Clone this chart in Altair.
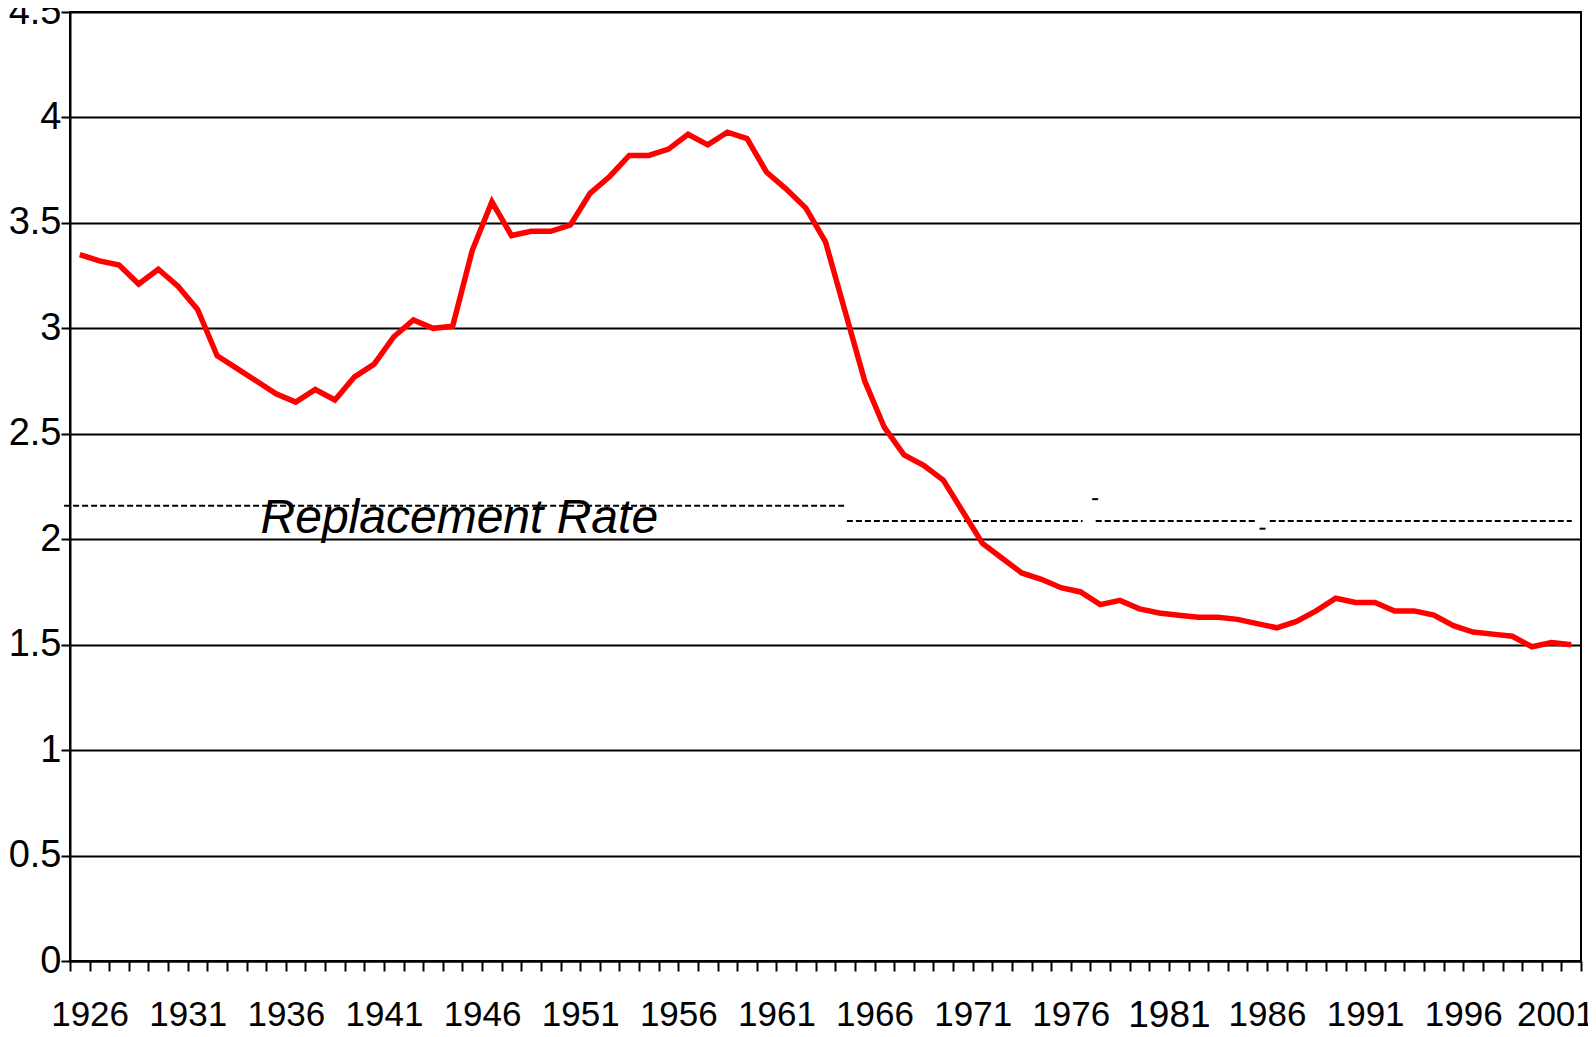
import altair as alt
import pandas as pd

years = list(range(1926, 2003))
tfr = [
    3.35, 3.32, 3.30, 3.21, 3.28, 3.20, 3.09, 2.87, 2.81, 2.75,   # 1926-1935
    2.69, 2.65, 2.71, 2.66, 2.77, 2.83, 2.96, 3.04, 3.00, 3.01,   # 1936-1945
    3.37, 3.60, 3.44, 3.46, 3.46, 3.49, 3.64, 3.72, 3.82, 3.82,   # 1946-1955
    3.85, 3.92, 3.87, 3.93, 3.90, 3.74, 3.66, 3.57, 3.41, 3.08,   # 1956-1965
    2.75, 2.53, 2.40, 2.35, 2.28, 2.13, 1.98, 1.91, 1.84, 1.81,   # 1966-1975
    1.77, 1.75, 1.69, 1.71, 1.67, 1.65, 1.64, 1.63, 1.63, 1.62,   # 1976-1985
    1.60, 1.58, 1.61, 1.66, 1.72, 1.70, 1.70, 1.66, 1.66, 1.64,   # 1986-1995
    1.59, 1.56, 1.55, 1.54, 1.49, 1.51, 1.50,                     # 1996-2002
]

label_years = [1926, 1931, 1936, 1941, 1946, 1951, 1956, 1961, 1966,
               1971, 1976, 1981, 1986, 1991, 1996, 2001]
y_ticks = [0, 0.5, 1, 1.5, 2, 2.5, 3, 3.5, 4, 4.5]

# replacement-rate dashed segments (as drawn in the original)
seg_start = [1925.2, 1965.09, 1977.77, 1986.64, 1977.59, 1986.12]
seg_end = [1964.99, 1977.1, 1985.95, 2002.03, 1977.95, 1986.46]
seg_value = [2.159, 2.086, 2.086, 2.086, 2.19, 2.05]

note_text = ["Replacement Rate"]
note_year = [1935.21]
note_value = [2.03]

df = pd.DataFrame({"year": years, "tfr": tfr})
segs = pd.DataFrame({"x1": seg_start, "x2": seg_end, "v": seg_value})
notes = pd.DataFrame({"t": note_text, "x": note_year, "v": note_value})

FONT = "Liberation Sans"
x_scale = alt.Scale(domain=[1925.5, 2002.5], nice=False, zero=False)
y_scale = alt.Scale(domain=[0, 4.5], nice=False)

tick_vals = [1925.5 + k for k in range(78)]
label_list = ",".join(str(v) for v in label_years)
label_expr = (
    f"indexof([{label_list}], datum.value - 0.5) >= 0 ? "
    "toString(datum.value - 0.5) : ''"
)

x_axis = alt.Axis(
    values=tick_vals,
    tickCount=200,
    labelExpr=label_expr,
    title=None,
    grid=False,
    tickSize=10,
    tickWidth=2,
    tickColor="black",
    domainColor="black",
    domainWidth=2,
    labelFont=FONT,
    labelFontSize={"condition": {"test": "datum.value == 1981.5", "value": 37}, "value": 35},
    labelOffset={"condition": {"test": "datum.value == 2001.5", "value": -6}, "value": 0},
    labelColor="black",
    labelPadding=26,
    labelOverlap=False,
    labelFlush=False,
    labelBound=False,
)

y_axis = alt.Axis(
    values=y_ticks,
    format="~g",
    title=None,
    grid=True,
    gridColor="black",
    gridWidth=2,
    gridOpacity=1,
    tickSize=9,
    tickWidth=2,
    tickColor="black",
    domainColor="black",
    domainWidth=2,
    labelFont=FONT,
    labelFontSize=38,
    labelColor="black",
    labelPadding=0,
    labelOverlap=False,
    labelFlush=False,
    labelBound=False,
)

line = alt.Chart(df).mark_line(color="#FF0000", strokeWidth=5.5).encode(
    x=alt.X("year:Q", scale=x_scale, axis=x_axis),
    y=alt.Y("tfr:Q", scale=y_scale, axis=y_axis),
)

rules = alt.Chart(segs).mark_rule(
    color="black", strokeWidth=2, strokeDash=[6, 3], clip=False
).encode(
    x=alt.X("x1:Q", scale=x_scale),
    x2="x2:Q",
    y=alt.Y("v:Q", scale=y_scale),
)

text = alt.Chart(notes).mark_text(
    font=FONT, fontSize=48, fontStyle="italic", align="left",
    baseline="alphabetic", color="black"
).encode(
    x=alt.X("x:Q", scale=x_scale),
    y=alt.Y("v:Q", scale=y_scale),
    text="t:N",
)

chart = alt.layer(rules, text, line).properties(
    width=1511,
    height=949,
    autosize=alt.AutoSizeParams(type="none"),
    padding={"left": 62, "top": 4, "right": 7, "bottom": 68},
    background="white",
).configure_view(stroke="black", strokeWidth=2)

chart.save("out.html", embed_options={"renderer": "svg", "actions": False})
